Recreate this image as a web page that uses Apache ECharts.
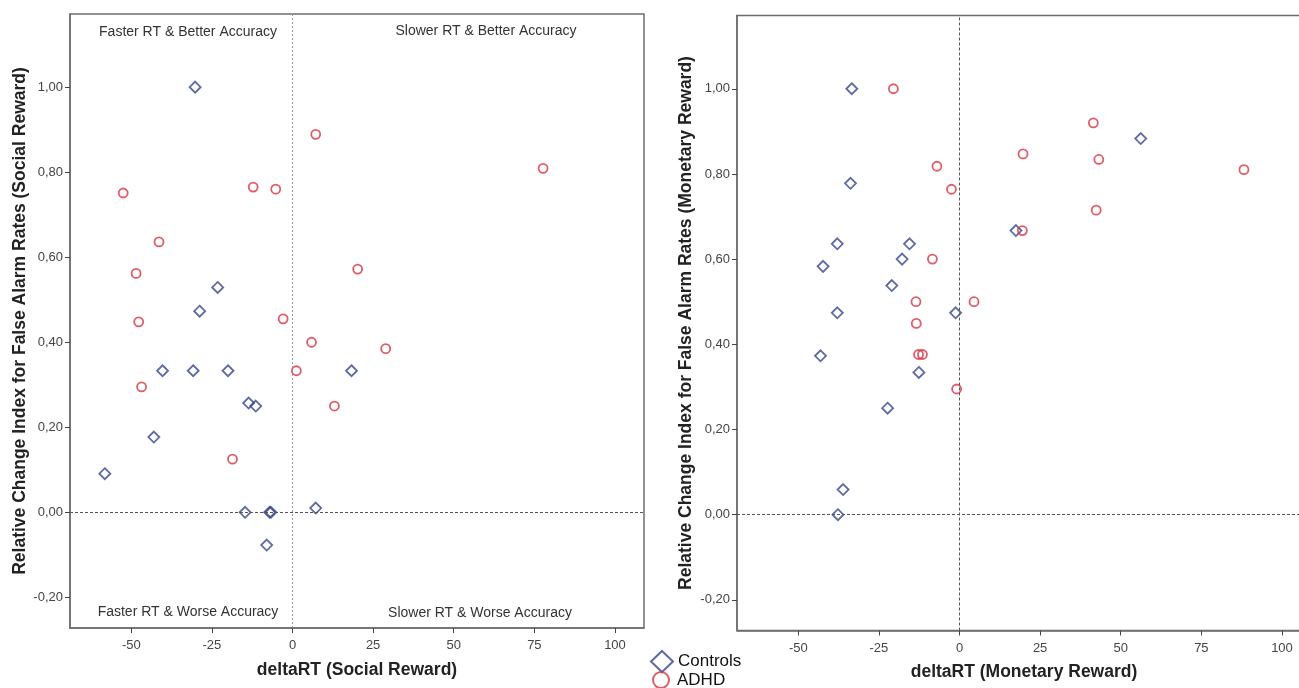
<!DOCTYPE html>
<html>
<head>
<meta charset="utf-8">
<script src="https://cdn.jsdelivr.net/npm/echarts@6/dist/echarts.min.js"></script>
<style>
html,body{margin:0;padding:0;background:#fff;}
#chart{width:1299px;height:688px;}
</style>
</head>
<body>
<div id="chart"></div>
<script>
// ---- Data ----
const xTicks = [-50, -25, 0, 25, 50, 75, 100];
const yTicks = [-0.2, 0, 0.2, 0.4, 0.6, 0.8, 1.0];

const socialControlsX = [-30.2, -23.2, -28.8, -40.3, -30.8, -20.0, 18.3, -13.6, -11.4, -43.0, -58.2, -14.7, -7.1, -6.7, 7.2, -8.0];
const socialControlsY = [1.000, 0.529, 0.473, 0.333, 0.333, 0.333, 0.333, 0.257, 0.250, 0.177, 0.091, 0.000, 0.000, 0.000, 0.010, -0.077];
const socialAdhdX = [7.2, 77.7, -52.5, -12.2, -5.2, -41.4, -48.5, 20.2, -2.9, -47.7, 5.9, 28.9, 1.2, -46.8, 13.0, -18.6];
const socialAdhdY = [0.889, 0.809, 0.751, 0.765, 0.760, 0.636, 0.562, 0.572, 0.455, 0.448, 0.400, 0.385, 0.333, 0.295, 0.250, 0.125];

const monetaryControlsX = [-33.4, -33.8, -37.9, -15.5, -42.3, -17.8, -21.0, -37.9, -1.2, -43.1, -12.6, -22.3, -36.1, -37.7, 56.2, 17.5];
const monetaryControlsY = [1.000, 0.778, 0.636, 0.636, 0.583, 0.600, 0.538, 0.474, 0.474, 0.373, 0.334, 0.250, 0.059, 0.000, 0.883, 0.667];
const monetaryAdhdX = [-20.5, -7.0, -2.5, -8.4, -13.5, 4.5, -13.4, -12.7, -11.5, -0.9, 41.5, 19.7, 43.2, 88.2, 42.4, 19.5];
const monetaryAdhdY = [1.000, 0.818, 0.764, 0.600, 0.500, 0.500, 0.449, 0.376, 0.376, 0.295, 0.920, 0.847, 0.834, 0.810, 0.715, 0.667];

const quadrantLabels = ["Faster RT & Better Accuracy", "Slower RT & Better Accuracy", "Faster RT & Worse Accuracy", "Slower RT & Worse Accuracy"];
const seriesNames = ["Controls", "ADHD"];

// ---- Helpers ----
const zip = (xs, ys) => xs.map((x, i) => [x, ys[i]]);
const FONT = "'Liberation Sans', Arial, sans-serif";
const BLUE = '#36458f';
const RED = '#d63443';
const AXIS = '#6e6e6e';

function xAxisCfg(idx, name) {
  return {
    type: 'value', gridIndex: idx, min: -69, max: 109,
    name: name, nameLocation: 'middle', nameGap: 33,
    nameTextStyle: {fontFamily: FONT, fontWeight: 'bold', fontSize: 17.5, color: '#222'},
    splitLine: {show: false},
    axisLine: {show: true, onZero: false, lineStyle: {color: AXIS, width: 1.5}},
    axisTick: {show: true, customValues: xTicks, length: 5, lineStyle: {color: '#444'}},
    axisLabel: {customValues: xTicks, fontFamily: FONT, fontSize: 13, color: '#444', margin: 11}
  };
}
function yAxisCfg(idx, name, gap) {
  return {
    type: 'value', gridIndex: idx, min: -0.272, max: 1.172,
    name: name, nameLocation: 'middle', nameGap: gap,
    nameTextStyle: {fontFamily: FONT, fontWeight: 'bold', fontSize: 17.5, color: '#222'},
    splitLine: {show: false},
    axisLine: {show: true, onZero: false, lineStyle: {color: AXIS, width: 1.5}},
    axisTick: {show: true, customValues: yTicks, length: 5, lineStyle: {color: '#444'}},
    axisLabel: {customValues: yTicks, fontFamily: FONT, fontSize: 13, color: '#444', margin: 7,
      formatter: v => (Math.abs(v) < 1e-9 ? 0 : v).toFixed(2).replace('.', ',')}
  };
}
function refLines(vColor, vType) {
  return {
    silent: true, symbol: 'none', label: {show: false}, animation: false,
    data: [
      {yAxis: 0, lineStyle: {color: '#555', type: [3, 2], width: 1}},
      {xAxis: 0, lineStyle: {color: vColor, type: vType, width: 1}}
    ]
  };
}
function scatter(name, idx, data, isCtrl, withLines) {
  const s = {
    name: name, type: 'scatter', xAxisIndex: idx, yAxisIndex: idx,
    data: data,
    symbol: isCtrl ? 'diamond' : 'circle',
    symbolSize: isCtrl ? 11 : 9,
    itemStyle: {color: 'rgba(255,255,255,0)', borderColor: isCtrl ? BLUE : RED, borderWidth: 1.8},
    z: isCtrl ? 3 : 4,
    animation: false
  };
  if (withLines) s.markLine = withLines;
  return s;
}
function legendCfg(name, left, top, h) {
  return {
    data: [name], orient: 'vertical', left: left, top: top, padding: 0,
    itemWidth: 22, itemHeight: h, itemGap: 0,
    textStyle: {fontFamily: FONT, fontSize: 17, color: '#111'}
  };
}

const chart = echarts.init(document.getElementById('chart'), null, {renderer: 'canvas'});
chart.setOption({
  backgroundColor: '#fff',
  animation: false,
  grid: [
    {left: 70, top: 14, width: 574, height: 614, show: true, borderColor: AXIS, borderWidth: 1.5, outerBoundsMode: 'none'},
    {left: 737, top: 15.5, width: 574, height: 615, show: true, borderColor: AXIS, borderWidth: 1.5, outerBoundsMode: 'none'}
  ],
  xAxis: [xAxisCfg(0, 'deltaRT (Social Reward)'), xAxisCfg(1, 'deltaRT (Monetary Reward)')],
  yAxis: [yAxisCfg(0, 'Relative Change Index for False Alarm Rates (Social Reward)', 41),
          yAxisCfg(1, 'Relative Change Index for False Alarm Rates (Monetary Reward)', 42)],
  legend: [legendCfg(seriesNames[0], 650, 650, 21), legendCfg(seriesNames[1], 652, 671, 16)],
  graphic: [
    {type: 'text', x: 188, y: 32, style: {text: quadrantLabels[0], font: '14px ' + FONT, fill: '#333', align: 'center', verticalAlign: 'middle'}},
    {type: 'text', x: 486, y: 31, style: {text: quadrantLabels[1], font: '14px ' + FONT, fill: '#333', align: 'center', verticalAlign: 'middle'}},
    {type: 'text', x: 188, y: 612, style: {text: quadrantLabels[2], font: '14px ' + FONT, fill: '#333', align: 'center', verticalAlign: 'middle'}},
    {type: 'text', x: 480, y: 613, style: {text: quadrantLabels[3], font: '14px ' + FONT, fill: '#333', align: 'center', verticalAlign: 'middle'}}
  ],
  series: [
    scatter(seriesNames[0], 0, zip(socialControlsX, socialControlsY), true, refLines('#999', [2, 2])),
    scatter(seriesNames[1], 0, zip(socialAdhdX, socialAdhdY), false, null),
    scatter(seriesNames[0], 1, zip(monetaryControlsX, monetaryControlsY), true, refLines('#555', [3, 2])),
    scatter(seriesNames[1], 1, zip(monetaryAdhdX, monetaryAdhdY), false, null)
  ]
});
</script>
</body>
</html>
